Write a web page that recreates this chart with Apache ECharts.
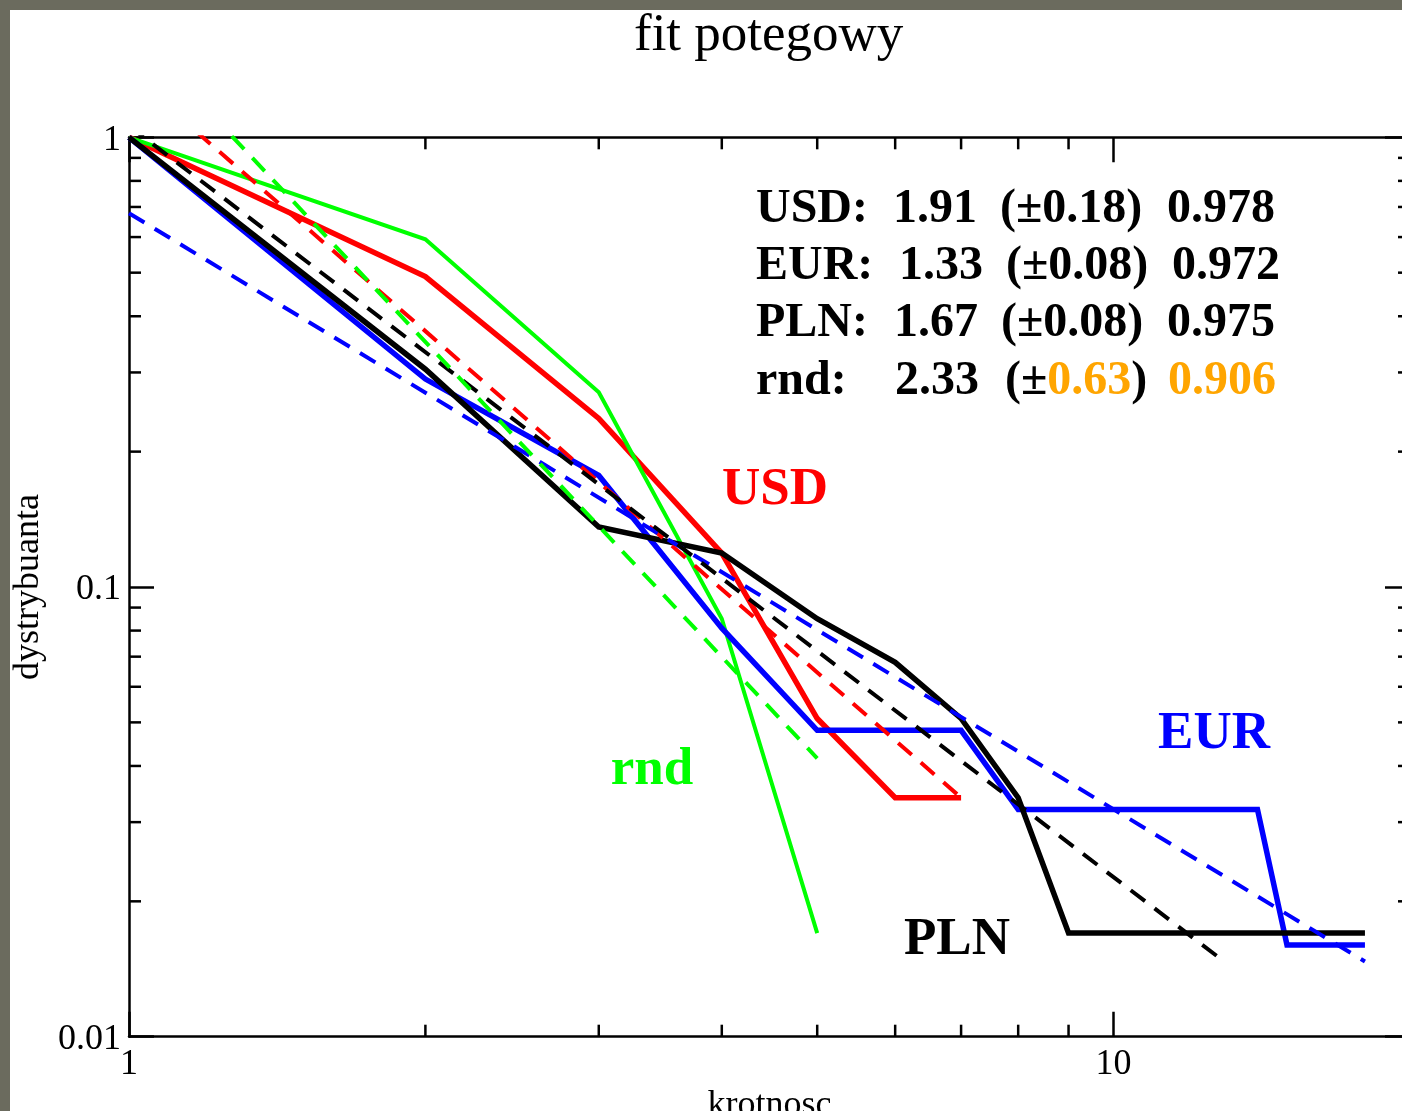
<!DOCTYPE html>
<html><head><meta charset="utf-8">
<script src="https://cdn.jsdelivr.net/npm/echarts@6/dist/echarts.min.js"></script>
<style>
html,body{margin:0;padding:0;background:#6b6b5e;width:1402px;height:1111px;overflow:hidden}
#c{position:absolute;left:10px;top:10px;width:1392px;height:1101px;background:#fff}
</style></head><body><div id="c"></div>
<script>
// ---------- data ----------
const titleText = 'fit potegowy';
const xName = 'krotnosc';
const yName = 'dystrybuanta';
const xRange = [1, 20];
const yRange = [0.01, 1];
const xMinorTicks = [2, 3, 4, 5, 6, 7, 8, 9];
const yMinorTicks = [0.02, 0.03, 0.04, 0.05, 0.06, 0.07, 0.08, 0.09, 0.2, 0.3, 0.4, 0.5, 0.6, 0.7, 0.8, 0.9];

const usdX = [1, 2, 3, 4, 5, 6, 7];
const usdY = [1, 0.49, 0.237, 0.119, 0.051, 0.034, 0.034];
const eurX = [1, 2, 3, 4, 5, 6, 7, 8, 9, 10, 11, 12, 13, 14, 15, 16, 17, 18];
const eurY = [1, 0.29, 0.177, 0.081, 0.048, 0.048, 0.048, 0.032, 0.032, 0.032, 0.032, 0.032, 0.032, 0.032, 0.016, 0.016, 0.016, 0.016];
const plnX = [1, 2, 3, 4, 5, 6, 7, 8, 9, 10, 11, 12, 13, 14, 15, 16, 17, 18];
const plnY = [1, 0.305, 0.136, 0.119, 0.085, 0.068, 0.051, 0.034, 0.017, 0.017, 0.017, 0.017, 0.017, 0.017, 0.017, 0.017, 0.017, 0.017];
const rndX = [1, 2, 3, 4, 5];
const rndY = [1, 0.593, 0.271, 0.085, 0.017];

// fitted power-law lines (end points)
const usdFitX = [1, 7];  const usdFitY = [1.39, 0.034];
const eurFitX = [1, 18]; const eurFitY = [0.678, 0.0147];
const plnFitX = [1, 13]; const plnFitY = [1.06, 0.0146];
const rndFitX = [1, 5];  const rndFitY = [1.76, 0.0416];

const fitNames = ['USD:', 'EUR:', 'PLN:', 'rnd:'];
const fitExp = ['1.91', '1.33', '1.67', '2.33'];
const fitErr = ['0.18', '0.08', '0.08', '0.63'];
const fitR = ['0.978', '0.972', '0.975', '0.906'];
const fitWarn = [false, false, false, true];

const seriesLabels = ['USD', 'EUR', 'PLN', 'rnd'];

// ---------- style / layout ----------
const RED = '#ff0000', BLUE = '#0000ff', BLACK = '#000000', GREEN = '#00ff00', ORANGE = '#ffa500';
const SERIF = '"Liberation Serif","Times New Roman",serif';
const OX = 10, OY = 10; // white canvas offset in page
const zip = (a, b) => a.map((v, i) => [v, b[i]]);

const chart = echarts.init(document.getElementById('c'), null, {renderer: 'canvas'});

const baseAxis = {
  type: 'log', logBase: 10,
  axisLine: {show: true, onZero: false, lineStyle: {color: '#000', width: 2.5}},
  axisTick: {show: true, inside: true, length: 25, lineStyle: {color: '#000', width: 2.5}},
  splitLine: {show: false},
  minorTick: {show: false},
  minorSplitLine: {show: false}
};
const labelStyle = {color: '#000', fontFamily: SERIF, fontSize: 36};

function line(name, xs, ys, color, width, dashed, z) {
  return {
    name, type: 'line', data: zip(xs, ys), xAxisIndex: 0, yAxisIndex: 0,
    showSymbol: false, symbol: 'none', silent: true, clip: true, z,
    lineStyle: {color, width, type: dashed ? [18, 12] : 'solid', cap: 'butt', join: 'miter'}
  };
}

const option = {
  animation: false,
  backgroundColor: '#ffffff',
  title: {
    text: titleText, left: 624, top: 0, padding: 0,
    textStyle: {fontFamily: SERIF, fontSize: 53, fontWeight: 'normal', color: '#000'}
  },
  grid: {left: 119, top: 127.3, width: 1281, height: 899.4, containLabel: false, outerBoundsMode: 'none'},
  xAxis: [
    Object.assign({}, baseAxis, {
      position: 'bottom', min: xRange[0], max: xRange[1],
      axisLabel: Object.assign({margin: 10, showMaxLabel: false}, labelStyle),
      name: xName, nameLocation: 'middle', nameGap: 43,
      nameTextStyle: {fontFamily: SERIF, fontSize: 36, color: '#000'}
    }),
    Object.assign({}, baseAxis, {
      position: 'top', min: xRange[0], max: xRange[1], axisLabel: {show: false}
    })
  ],
  yAxis: [
    Object.assign({}, baseAxis, {
      position: 'left', min: yRange[0], max: yRange[1],
      axisLabel: Object.assign({
        margin: 8,
        formatter: '{a|{value}}',
        rich: {a: {fontFamily: SERIF, fontSize: 36, color: '#000', padding: [6, 0, 0, 0]}}
      }, labelStyle),
      name: yName, nameLocation: 'middle', nameGap: 82, nameRotate: 90,
      nameTextStyle: {fontFamily: SERIF, fontSize: 36, color: '#000'}
    }),
    Object.assign({}, baseAxis, {
      position: 'right', min: yRange[0], max: yRange[1], axisLabel: {show: false}
    })
  ],
  series: [
    line('USD', usdX, usdY, RED, 5.5, false, 2),
    line('rnd', rndX, rndY, GREEN, 4, false, 2),
    line('EUR', eurX, eurY, BLUE, 5.5, false, 2),
    line('PLN', plnX, plnY, BLACK, 5.5, false, 2),
    line('USD fit', usdFitX, usdFitY, RED, 4, true, 3),
    line('EUR fit', eurFitX, eurFitY, BLUE, 4, true, 3),
    line('PLN fit', plnFitX, plnFitY, BLACK, 4, true, 3),
    line('rnd fit', rndFitX, rndFitY, GREEN, 4, true, 3)
  ]
};
chart.setOption(option);

// ---------- minor ticks (positions from the library's own scales) ----------
const px = v => chart.convertToPixel({xAxisIndex: 0}, v);
const py = v => chart.convertToPixel({yAxisIndex: 0}, v);
const gx0 = px(xRange[0]), gx1 = px(xRange[1]);
const gy0 = py(yRange[0]), gy1 = py(yRange[1]);
const MINOR = 12;
const tickStyle = {stroke: '#000', lineWidth: 2.5};
const graphics = [];
xMinorTicks.forEach(v => {
  const x = px(v);
  graphics.push({type: 'line', silent: true, shape: {x1: x, y1: gy0, x2: x, y2: gy0 - MINOR}, style: tickStyle, z: 10});
  graphics.push({type: 'line', silent: true, shape: {x1: x, y1: gy1, x2: x, y2: gy1 + MINOR}, style: tickStyle, z: 10});
});
yMinorTicks.forEach(v => {
  const y = py(v);
  graphics.push({type: 'line', silent: true, shape: {x1: gx0, y1: y, x2: gx0 + MINOR, y2: y}, style: tickStyle, z: 10});
  graphics.push({type: 'line', silent: true, shape: {x1: gx1, y1: y, x2: gx1 - MINOR, y2: y}, style: tickStyle, z: 10});
});

// ---------- fit table ----------
const rowY = [210, 267, 324, 382];
const colX = [[756, 893, 1000, 1167], [756, 899, 1006, 1172], [756, 894, 1001, 1167], [756, 895, 1005, 1168]];
const tableFont = 'bold 48px ' + SERIF;
fitNames.forEach((nm, i) => {
  const cells = [
    {text: nm},
    {text: fitExp[i]},
    {text: fitWarn[i] ? '(±{o|' + fitErr[i] + '})' : '(±' + fitErr[i] + ')'},
    {text: fitWarn[i] ? '{o|' + fitR[i] + '}' : fitR[i]}
  ];
  cells.forEach((c, j) => {
    graphics.push({
      type: 'text', silent: true, x: colX[i][j] - OX, y: rowY[i] - OY, z: 20,
      style: {
        text: c.text, font: tableFont, fill: '#000',
        align: 'left', verticalAlign: 'middle', textAlign: 'left', textVerticalAlign: 'middle',
        rich: {o: {fill: ORANGE, font: tableFont}}
      }
    });
  });
});

// ---------- series labels ----------
const labelPos = [[775, 490], [1214, 734], [957, 940], [652, 770]];
const labelColors = [RED, BLUE, BLACK, GREEN];
seriesLabels.forEach((t, i) => {
  graphics.push({
    type: 'text', silent: true, x: labelPos[i][0] - OX, y: labelPos[i][1] - OY, z: 20,
    style: {
      text: t, font: 'bold 53px ' + SERIF, fill: labelColors[i],
      align: 'center', verticalAlign: 'middle', textAlign: 'center', textVerticalAlign: 'middle'
    }
  });
});

chart.setOption({graphic: graphics});
</script></body></html>
